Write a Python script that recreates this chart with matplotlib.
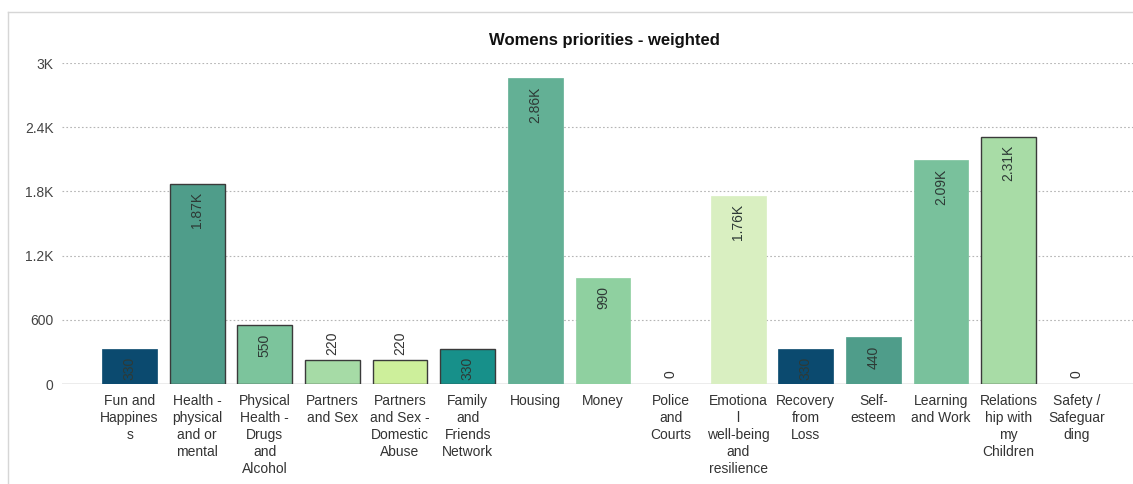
import numpy as np
import matplotlib.pyplot as plt
from matplotlib.lines import Line2D

plt.rcParams['font.family'] = ['Liberation Sans', 'DejaVu Sans']

# DATA
categories = ["Fun and\nHappines\ns", "Health -\nphysical\nand or\nmental",
              "Physical\nHealth -\nDrugs\nand\nAlcohol", "Partners\nand Sex",
              "Partners\nand Sex -\nDomestic\nAbuse", "Family\nand\nFriends\nNetwork",
              "Housing", "Money", "Police\nand\nCourts",
              "Emotiona\nl\nwell-being\nand\nresilience", "Recovery\nfrom\nLoss",
              "Self-\nesteem", "Learning\nand Work", "Relations\nhip with\nmy\nChildren",
              "Safety /\nSafeguar\nding"]
values = [330, 1870, 550, 220, 220, 330, 2860, 990, 0, 1760, 330, 440, 2090, 2310, 0]
value_labels = ["330", "1.87K", "550", "220", "220", "330", "2.86K", "990", "0",
                "1.76K", "330", "440", "2.09K", "2.31K", "0"]
colors = ["#0b4a6f", "#4f9d8a", "#7cc49c", "#a6dba6", "#cdef9b", "#17908a",
          "#63b095", "#8fd0a0", "#ffffff", "#d9efc1", "#0b4a6f", "#4f9d8a",
          "#79c19c", "#a8dca6", "#ffffff"]
outlined = [False, True, True, True, True, True, False, False, False,
            False, False, False, False, True, False]
yticks = [0, 600, 1200, 1800, 2400, 3000]
ytick_labels = ["0", "600", "1.2K", "1.8K", "2.4K", "3K"]

W, H = 1133, 484
fig = plt.figure(figsize=(W / 100, H / 100), dpi=100)
ax = fig.add_axes([62 / W, 1 - 384 / H, (W - 62) / W, (384 - 63) / H])

x = np.arange(len(categories))
for i in range(len(categories)):
    if values[i] == 0:
        continue
    ax.bar(x[i], values[i], width=0.81, color=colors[i],
           edgecolor="#3a3a3a" if outlined[i] else colors[i],
           linewidth=1.0 if outlined[i] else 0.5, zorder=3)

# value labels
for i in range(len(categories)):
    if values[i] >= 300:
        ax.annotate(value_labels[i], (x[i], values[i]), xytext=(0, -6),
                    textcoords="offset points", rotation=90, ha="center", va="top",
                    fontsize=10, color="#2e3a36", zorder=4)
    else:
        ax.annotate(value_labels[i], (x[i], values[i]), xytext=(0, 4),
                    textcoords="offset points", rotation=90, ha="center", va="bottom",
                    fontsize=10, color="#333333", zorder=4)

ax.set_xlim(-1.0, 14.84)
ax.set_ylim(0, 3000)
ax.set_yticks(yticks)
ax.set_yticklabels(ytick_labels, fontsize=10, color="#444444")
ax.set_xticks(x)
ax.set_xticklabels(categories, fontsize=10, color="#333333", linespacing=1.28)
ax.tick_params(axis="x", length=0, pad=7)
ax.tick_params(axis="y", length=0, pad=6)

for y in yticks[1:]:
    ax.axhline(y, color="#b5b5b5", linestyle=(0, (1.5, 2)), linewidth=0.8, zorder=1)
ax.axhline(0, color="#a0a0a0", linewidth=1.0, zorder=2)

for s in ax.spines.values():
    s.set_visible(False)

fig.text(604 / W, 1 - 40 / H, "Womens priorities - weighted", ha="center", va="center",
         fontsize=12, fontweight="bold", color="#111111")

# outer frame
fig.add_artist(Line2D([8 / W, 8 / W], [0, 1 - 12 / H], color="#d6d6d6", linewidth=1.0))
fig.add_artist(Line2D([8 / W, 1], [1 - 12 / H, 1 - 12 / H], color="#d6d6d6", linewidth=1.0))

fig.savefig("out.png", dpi=100)
